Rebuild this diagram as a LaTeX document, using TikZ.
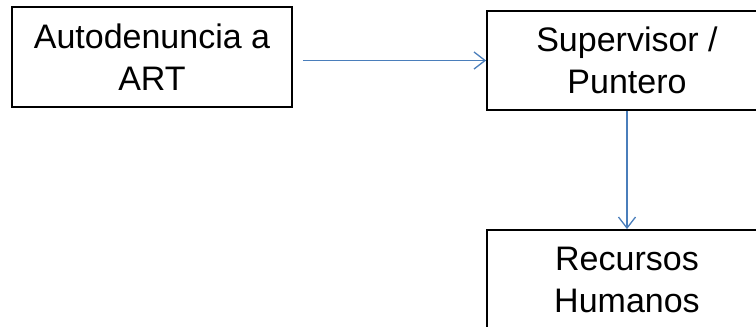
\documentclass[tikz,border=0pt]{standalone}
\usepackage{fontspec}
\setmainfont{Liberation Sans}
\usetikzlibrary{arrows.meta}
\definecolor{arrblue}{RGB}{74,126,187}
\begin{document}
\begin{tikzpicture}[x=1pt,y=-1pt,
  box/.style={draw=black, line width=1.8pt, minimum width=280pt, inner sep=0pt,
    align=center, font=\fontsize{34}{42}\selectfont},
  arr/.style={draw=arrblue, line width=1.5pt, -{Straight Barb[length=11pt,width=17pt,line width=1.3pt]}}]
\useasboundingbox (0,0) rectangle (756,327);
\clip (0,0) rectangle (756,327);
\node[box, minimum height=100pt] (a) at (152,57) {Autodenuncia a\\ART};
\node[box, minimum height=99pt] (b) at (627,60.5) {Supervisor /\\Puntero};
\node[box, minimum height=100pt] (c) at (627,280) {Recursos\\Humanos};
\draw[arr, shorten <=10pt] (b.west -| a.east) -- (b.west);
\draw[arr] (b.south) -- (c.north);
\end{tikzpicture}
\end{document}
